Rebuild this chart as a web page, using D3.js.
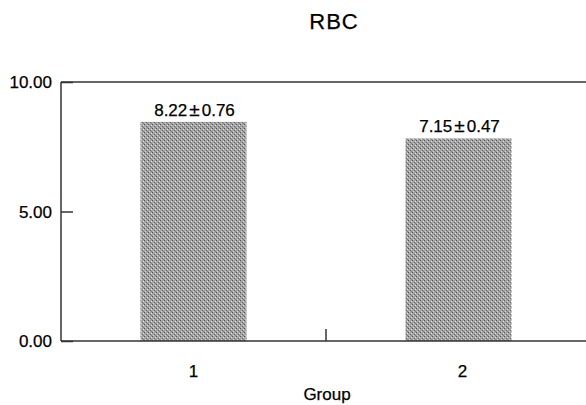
<!DOCTYPE html>
<html>
<head>
<meta charset="utf-8">
<script src="https://cdn.jsdelivr.net/npm/d3@7"></script>
<style>
  html, body { margin: 0; padding: 0; background: #fff; }
  svg { display: block; font-family: "Liberation Sans", Arial, sans-serif; }
  text { fill: #000; stroke: #000; stroke-width: 0.25px; }
</style>
</head>
<body>
<svg id="chart" width="586" height="405"></svg>
<script>
// ---- data ----
const categories = ["1", "2"];
const barValues = [8.46, 7.82];
const meanLabels = ["8.22", "7.15"];
const sdLabels = ["0.76", "0.47"];
const yTicks = [0, 5, 10];
const yTickLabels = ["0.00", "5.00", "10.00"];
const title = "RBC";
const xTitle = "Group";

const svg = d3.select("#chart");
const plotLeft = 61, plotRight = 591, plotTop = 82, plotBottom = 341;

const x = d3.scaleBand().domain(categories).range([plotLeft, plotRight])
  .paddingInner(0.6).paddingOuter(0.3);
const y = d3.scaleLinear().domain([0, 10]).range([plotBottom, plotTop]);

// pattern for stippled bars
const defs = svg.append("defs");
const pat = defs.append("pattern").attr("id", "stipple")
  .attr("width", 4).attr("height", 4).attr("patternUnits", "userSpaceOnUse");
pat.append("rect").attr("width", 4).attr("height", 4).attr("fill", "#a4a4a4");
pat.append("rect").attr("x", 0).attr("y", 0).attr("width", 1).attr("height", 1).attr("fill", "#555");
pat.append("rect").attr("x", 2).attr("y", 2).attr("width", 1).attr("height", 1).attr("fill", "#666");
pat.append("rect").attr("x", 1).attr("y", 3).attr("width", 1).attr("height", 1).attr("fill", "#d0d0d0");
pat.append("rect").attr("x", 3).attr("y", 1).attr("width", 1).attr("height", 1).attr("fill", "#dcdcdc");
pat.append("rect").attr("x", 3).attr("y", 3).attr("width", 1).attr("height", 1).attr("fill", "#808080");

// bars
svg.selectAll("rect.bar").data(categories).enter().append("rect")
  .attr("class", "bar")
  .attr("x", d => x(d))
  .attr("width", x.bandwidth())
  .attr("y", (d, i) => y(barValues[i]))
  .attr("height", (d, i) => y(0) - y(barValues[i]))
  .attr("fill", "url(#stipple)");

// value labels
const lbl = svg.selectAll("text.val").data(categories).enter().append("text")
  .attr("class", "val")
  .attr("x", d => x(d) + x.bandwidth() / 2 + 1)
  .attr("y", (d, i) => y(barValues[i]) - 6)
  .attr("text-anchor", "middle")
  .attr("font-size", 17);
lbl.append("tspan").text((d, i) => meanLabels[i]);
lbl.append("tspan").attr("dx", 2).attr("font-size", 19).text("±");
lbl.append("tspan").attr("dx", 2).text((d, i) => sdLabels[i]);

// frame: top line, left axis, bottom axis
const stroke = "#333";
svg.append("line").attr("x1", plotLeft).attr("x2", 586).attr("y1", y(10)).attr("y2", y(10))
  .attr("stroke", stroke).attr("stroke-width", 1.5);
svg.append("line").attr("x1", plotLeft).attr("x2", plotLeft).attr("y1", y(10)).attr("y2", y(0))
  .attr("stroke", stroke).attr("stroke-width", 1.5);
svg.append("line").attr("x1", plotLeft).attr("x2", 586).attr("y1", y(0)).attr("y2", y(0))
  .attr("stroke", stroke).attr("stroke-width", 1.5);

// y axis ticks (inward) and labels
const yAxis = d3.axisRight(y).tickValues(yTicks).tickSize(12)
  .tickFormat(() => "");
const yg = svg.append("g").attr("transform", `translate(${plotLeft},0)`).call(yAxis);
yg.select(".domain").remove();
yg.selectAll(".tick line").attr("stroke", stroke).attr("stroke-width", 1.5);

svg.selectAll("text.ylab").data(yTicks).enter().append("text")
  .attr("class", "ylab")
  .attr("x", 52)
  .attr("y", d => y(d) + 6)
  .attr("text-anchor", "end")
  .attr("font-size", 17)
  .text((d, i) => yTickLabels[i]);

// x separator tick between categories
const sepX = (x(categories[0]) + x.bandwidth() + x(categories[1])) / 2;
svg.append("line").attr("x1", sepX).attr("x2", sepX).attr("y1", y(0)).attr("y2", y(0) - 12)
  .attr("stroke", stroke).attr("stroke-width", 1.5);

// x category labels
svg.selectAll("text.xlab").data(categories).enter().append("text")
  .attr("class", "xlab")
  .attr("x", (d, i) => x(d) + x.bandwidth() / 2 + (i === 1 ? 4 : 0))
  .attr("y", 377)
  .attr("text-anchor", "middle")
  .attr("font-size", 17)
  .text(d => d);

// axis title
svg.append("text").attr("x", 327).attr("y", 400)
  .attr("text-anchor", "middle").attr("font-size", 17)
  .text(xTitle);

// chart title
svg.append("text").attr("x", 334).attr("y", 29)
  .attr("text-anchor", "middle").attr("font-size", 22).attr("letter-spacing", 1)
  .text(title);
</script>
</body>
</html>
